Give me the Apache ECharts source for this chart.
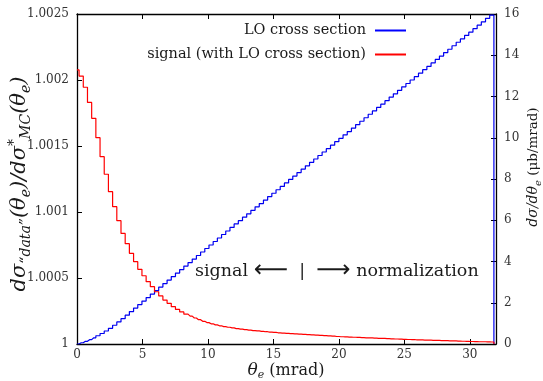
<!DOCTYPE html>
<html>
<head>
<meta charset="utf-8">
<script src="https://cdn.jsdelivr.net/npm/echarts@6/dist/echarts.min.js"></script>
<style>html,body{margin:0;padding:0;background:#fff}#c{width:543px;height:381px}</style>
</head>
<body>
<div id="c"></div>
<script>
// ---- data ----
const binWidth = 0.32;      // mrad, histogram bin spacing (bin centres start at 0)
const lastEdge = 31.84;     // upper edge of the last bin
const xTicks = [0, 5, 10, 15, 20, 25, 30];
const leftTicks = ['1', '1.0005', '1.001', '1.0015', '1.002', '1.0025'];
const rightTicks = [0, 2, 4, 6, 8, 10, 12, 14, 16];
const seriesNames = ['LO cross section', 'signal (with LO cross section)'];

const loCross = [
  0.00,0.06,0.13,0.21,0.30,0.40,0.51,0.63,0.76,0.91,
  1.07,1.23,1.40,1.57,1.74,1.91,2.08,2.25,2.42,2.59,
  2.76,2.93,3.10,3.27,3.44,3.61,3.78,3.95,4.12,4.29,
  4.46,4.63,4.80,4.97,5.14,5.31,5.48,5.65,5.82,5.98,
  6.15,6.31,6.48,6.65,6.81,6.98,7.15,7.31,7.48,7.64,
  7.81,7.98,8.14,8.31,8.48,8.64,8.81,8.97,9.14,9.31,
  9.47,9.64,9.81,9.97,10.14,10.30,10.47,10.64,10.80,10.97,
  11.14,11.30,11.47,11.63,11.80,11.97,12.13,12.30,12.47,12.63,
  12.80,12.96,13.13,13.30,13.46,13.63,13.80,13.96,14.13,14.29,
  14.46,14.63,14.79,14.96,15.12,15.29,15.46,15.62,15.79,15.95
];

const signal = [
  1.002076,1.002030,1.001945,1.001830,1.001710,1.001563,1.001419,1.001286,1.001154,1.001040,
  1.000934,1.000838,1.000760,1.000687,1.000624,1.000566,1.000517,1.000472,1.000434,1.000396,
  1.000364,1.000333,1.000308,1.000283,1.000262,1.000243,1.000226,1.000211,1.000197,1.000184,
  1.000172,1.000162,1.000153,1.000145,1.000138,1.000132,1.000127,1.000122,1.000117,1.000113,
  1.000109,1.000105,1.000102,1.000099,1.000096,1.000093,1.000090,1.000088,1.000085,1.000083,
  1.000081,1.000079,1.000077,1.000075,1.000073,1.000071,1.000069,1.000067,1.000065,1.000063,
  1.000061,1.000059,1.000057,1.000055,1.000054,1.000052,1.000051,1.000050,1.000048,1.000047,
  1.000046,1.000044,1.000043,1.000042,1.000040,1.000039,1.000038,1.000037,1.000035,1.000034,
  1.000033,1.000032,1.000031,1.000030,1.000029,1.000028,1.000027,1.000026,1.000025,1.000024,
  1.000023,1.000022,1.000021,1.000020,1.000019,1.000018,1.000017,1.000017,1.000016,1.000015
];

// ---- build histogram-step data ----
function stepData(vals, floor) {
  const d = vals.map((v, i) => [+(i * binWidth).toFixed(2), v]);
  d.push([lastEdge, vals[vals.length - 1]]);
  d.push([lastEdge, floor]);
  return d;
}

const SERIF = '"DejaVu Serif", "Liberation Serif", serif';
const TXT = '#1a1a1a';
const chart = echarts.init(document.getElementById('c'), null, {renderer: 'canvas'});

const axisLine = {show: true, onZero: false, lineStyle: {color: '#000', width: 1.3}};
const tickIn = {show: true, inside: true, length: 5, lineStyle: {color: '#000', width: 1}};
const noMinor = {show: false};

function it(size) { return {fontFamily: SERIF, fontStyle: 'italic', fontSize: size, fill: TXT, color: TXT}; }
function rm(size) { return {fontFamily: SERIF, fontSize: size, fill: TXT, color: TXT}; }
function sub(size) { return Object.assign(it(size), {verticalAlign: 'bottom'}); }
function sup(size) { return Object.assign(it(size), {verticalAlign: 'top'}); }

chart.setOption({
  animation: false,
  backgroundColor: '#fff',
  grid: {left: 77, right: 47, top: 14, bottom: 37, containLabel: false, outerBoundsMode: 'none'},
  legend: {
    data: seriesNames,
    orient: 'vertical',
    right: 137, top: 23, padding: 0,
    align: 'right',
    itemWidth: 31, itemHeight: 2, itemGap: 9,
    icon: 'rect',
    textStyle: {fontFamily: SERIF, fontSize: 14.5, color: TXT, padding: [0, 4, 0, 0]}
  },
  xAxis: [{
    type: 'value', min: 0, max: 32, interval: 5, position: 'bottom',
    axisLine: axisLine, axisTick: tickIn, minorTick: noMinor, splitLine: {show: false},
    axisLabel: {fontFamily: SERIF, fontSize: 12, color: '#333', margin: 5,
      formatter: v => (xTicks.indexOf(v) >= 0 ? String(v) : '')}
  }, {
    type: 'value', min: 0, max: 32, interval: 5, position: 'top',
    axisLine: axisLine, axisTick: tickIn, minorTick: noMinor, axisLabel: {show: false}, splitLine: {show: false}
  }],
  yAxis: [{
    type: 'value', min: 1, max: 1.0025, interval: 0.0005, position: 'left',
    axisLine: axisLine, axisTick: tickIn, minorTick: noMinor, splitLine: {show: false},
    axisLabel: {fontFamily: SERIF, fontSize: 12, color: '#333', margin: 8,
      formatter: (v) => leftTicks[Math.round((v - 1) / 0.0005)] || ''}
  }, {
    type: 'value', min: 0, max: 16, interval: 2, position: 'right',
    axisLine: axisLine, axisTick: tickIn, minorTick: noMinor, splitLine: {show: false},
    axisLabel: {fontFamily: SERIF, fontSize: 12, color: '#333', margin: 8,
      formatter: v => (rightTicks.indexOf(v) >= 0 ? String(v) : '')}
  }],
  series: [{
    name: seriesNames[0], type: 'line', xAxisIndex: 0, yAxisIndex: 1,
    step: 'middle', showSymbol: false, symbol: 'none',
    data: stepData(loCross, 0),
    itemStyle: {color: '#0000ff'},
    lineStyle: {color: '#0000f0', width: 1.2}
  }, {
    name: seriesNames[1], type: 'line', xAxisIndex: 0, yAxisIndex: 0,
    step: 'middle', showSymbol: false, symbol: 'none',
    data: stepData(signal, 1),
    itemStyle: {color: '#ff0000'},
    lineStyle: {color: '#ff0000', width: 1.2}
  }],
  graphic: [{
    type: 'text', left: 195, top: 259,
    style: {text: '{t|signal }{a|⟵}{t|  |  }{a|⟶}{t| normalization}',
      rich: {t: rm(17.5), a: {fontFamily: '"DejaVu Sans"', fontSize: 24, fill: TXT, color: TXT}}}
  }, {
    type: 'text', x: 286, y: 371,
    style: {text: '{i|θ}{s|e}{r| (mrad)}', align: 'center', verticalAlign: 'middle',
      lineHeight: 20, rich: {i: it(17), s: sub(11), r: rm(16)}}
  }, {
    type: 'text', x: 20, y: 184, rotation: Math.PI / 2,
    style: {text: '{m|dσ}{b|“data”}{m|(θ}{b|e}{m|)/dσ}{p|*}{b|MC}{m|(θ}{b|e}{m|)}',
      align: 'center', verticalAlign: 'middle', lineHeight: 26,
      rich: {m: it(21), b: sub(14), p: sup(14)}}
  }, {
    type: 'text', x: 533, y: 167, rotation: Math.PI / 2,
    style: {text: '{m|dσ/dθ}{b|e}{r| (μb/mrad)}', align: 'center', verticalAlign: 'middle',
      lineHeight: 20, rich: {m: it(14), b: sub(10), r: rm(13.5)}}
  }]
});
</script>
</body>
</html>
